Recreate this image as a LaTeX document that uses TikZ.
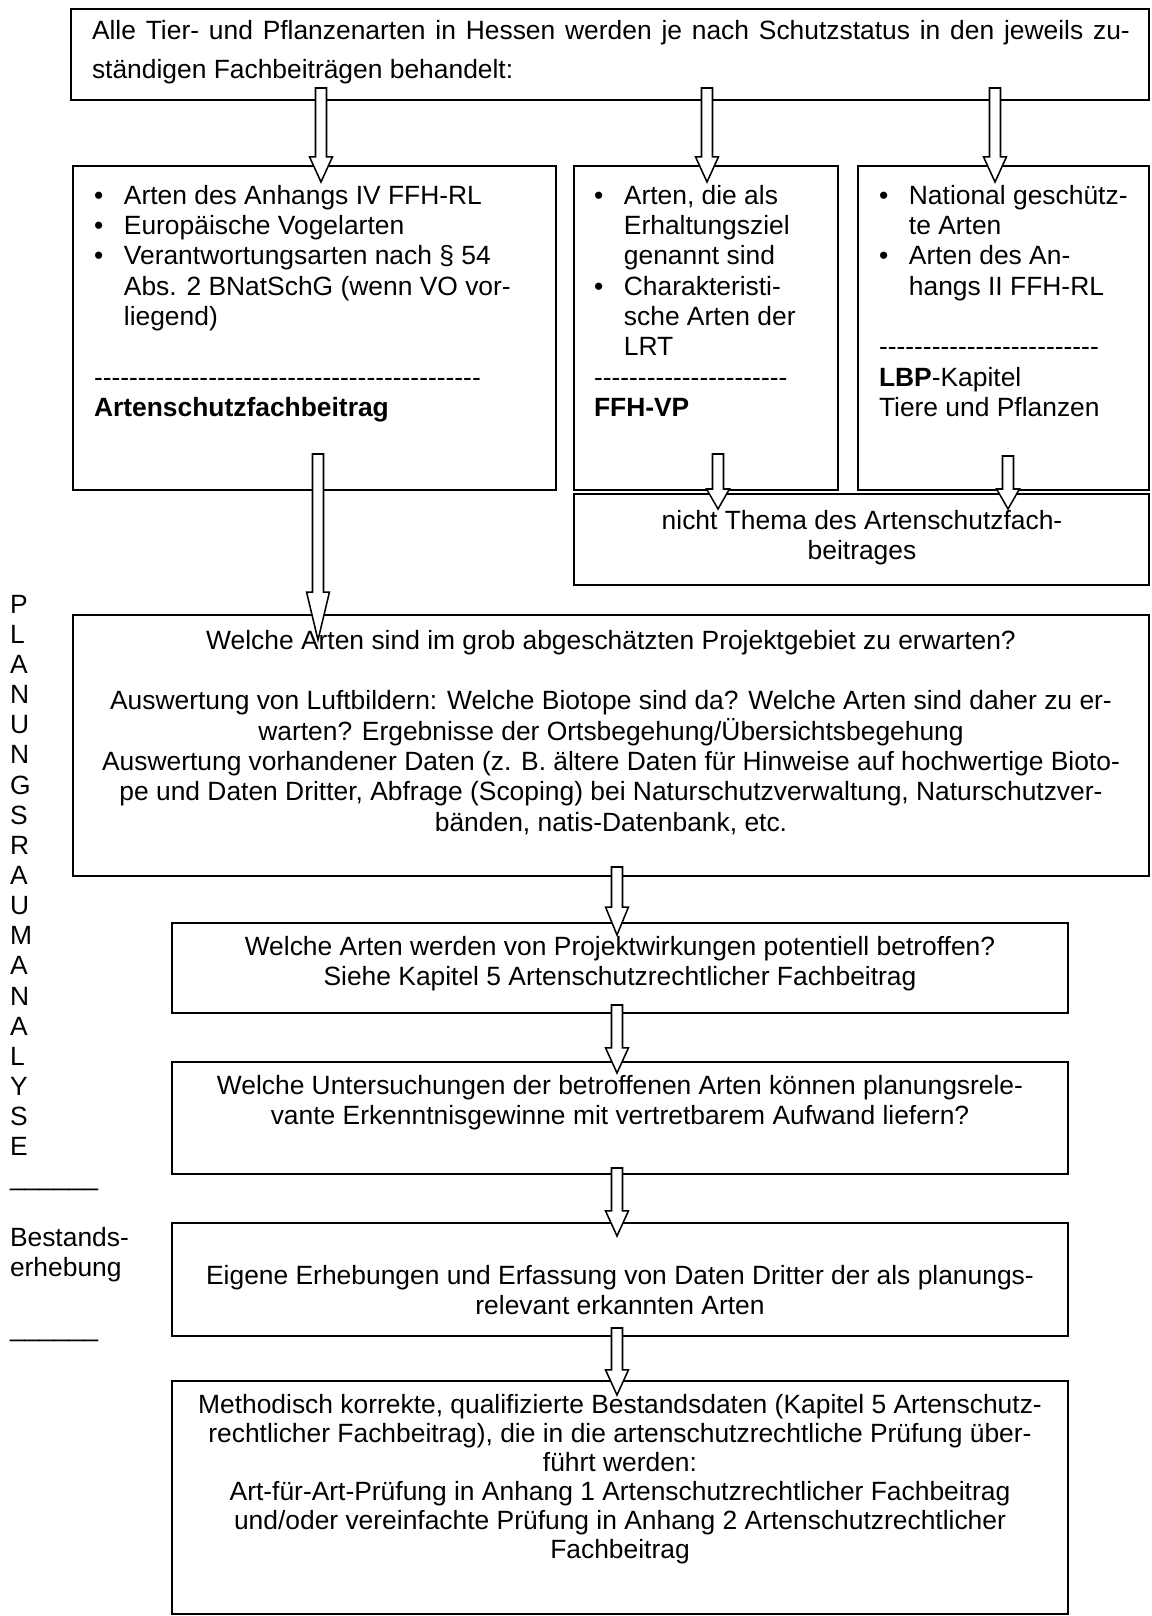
\documentclass[tikz,border=0pt]{standalone}
\usepackage{fontspec}
\newfontfamily\arial{Liberation Sans}
\usetikzlibrary{calc,fit}
\ExplSyntaxOn
\cs_new:Npn \mydashes #1 { \prg_replicate:nn {#1} {-{}} }
\ExplSyntaxOff
\newcommand\bul{\makebox[13.6pt][l]{•}}
\newcommand\ind{\hspace*{13.6pt}}
% block arrow: start coordinate, tip coordinate, head length
\newcommand\barrow[3]{\draw[arr] let \p1=(#1), \p2=(#2) in
  (\x2-2.5pt,\y1) -- (\x2+2.5pt,\y1) -- (\x2+2.5pt,\y2+#3) -- (\x2+5.2pt,\y2+#3)
  -- (\x2,\y2) -- (\x2-5.2pt,\y2+#3) -- (\x2-2.5pt,\y2+#3) -- cycle;}
\begin{document}
\begin{tikzpicture}[x=0.45454pt,y=-0.45454pt,
  box/.style={draw,line width=0.9pt,inner sep=0pt,outer sep=0pt},
  arr/.style={draw,fill=white,line width=0.7pt,line join=miter},
  txt/.style={font=\arial\fontsize{12}{13.8}\selectfont,inner sep=0pt,outer sep=0pt,
    anchor=north,align=center,execute at begin node=\strut}]
\useasboundingbox[fill=white] (0,0) rectangle (1151,1616);

% boxes
\node[box,fit={(71,9)(1149,100)}] (top) {};
\node[box,fit={(73,166)(556,490)}] (A) {};
\node[box,fit={(574,166)(838,490)}] (B) {};
\node[box,fit={(858,166)(1149,490)}] (C) {};
\node[box,fit={(574,494)(1149,585)}] (D) {};
\node[box,fit={(73,615)(1149,876)}] (big) {};
\node[box,fit={(172,923)(1068,1013)}] (b3) {};
\node[box,fit={(172,1062)(1068,1174)}] (b4) {};
\node[box,fit={(172,1223)(1068,1336)}] (b5) {};
\node[box,fit={(172,1381)(1068,1614)}] (b6) {};

% arrow end points
\path (top.south west) ++(250,-12) coordinate (s1);
\path (A.north west) ++(248,16) coordinate (e1);
\path (top.south west) ++(636,-12) coordinate (s2);
\path (B.north west) ++(133,16) coordinate (e2);
\path (top.south west) ++(924,-12) coordinate (s3);
\path (C.north west) ++(137,16) coordinate (e3);
\path (A.south west) ++(245,-36) coordinate (s4);
\path (big.north west) ++(245,25) coordinate (e4);
\path (B.south west) ++(144,-36) coordinate (s5);
\path (D.north west) ++(144,15) coordinate (e5);
\path (C.south west) ++(150,-34) coordinate (s6);
\path (D.north west) ++(434,15) coordinate (e6);
\path (big.south west) ++(544,-9) coordinate (s7);
\path (b3.north west) ++(445,12) coordinate (e7);
\path (b3.south west) ++(445,-8) coordinate (s8);
\path (b4.north west) ++(445,11) coordinate (e8);
\path (b4.south west) ++(445,-6) coordinate (s9);
\path (b5.north west) ++(445,13) coordinate (e9);
\path (b5.south west) ++(445,-8) coordinate (s10);
\path (b6.north west) ++(445,14) coordinate (e10);

\barrow{s1}{e1}{11.4pt}
\barrow{s2}{e2}{11.4pt}
\barrow{s3}{e3}{11.4pt}
\barrow{s4}{e4}{21.8pt}
\barrow{s5}{e5}{9.1pt}
\barrow{s6}{e6}{9.1pt}
\barrow{s7}{e7}{12.7pt}
\barrow{s8}{e8}{11.4pt}
\barrow{s9}{e9}{11.4pt}
\barrow{s10}{e10}{11.4pt}

% texts
\node[txt,anchor=north west,align=left,font=\arial\fontsize{12}{17.7}\selectfont] (ttop) at (92,20)
  {\makebox[471.8pt][s]{Alle Tier- und Pflanzenarten in Hessen werden je nach Schutzstatus in den jeweils zu-}\\
   ständigen Fachbeiträgen behandelt:};

\node[txt,anchor=north west,align=left] (tA) at (94,185)
  {\bul Arten des Anhangs IV FFH-RL\\
   \bul Europäische Vogelarten\\
   \bul Verantwortungsarten nach § 54\\
   \ind Abs. 2 BNatSchG (wenn VO vor-\\
   \ind liegend)\\
   \mbox{}\\
   \mydashes{44}\\
   \textbf{Artenschutzfachbeitrag}};

\node[txt,anchor=north west,align=left] (tB) at (594,185)
  {\bul Arten, die als\\
   \ind Erhaltungsziel\\
   \ind genannt sind\\
   \bul Charakteristi-\\
   \ind sche Arten der\\
   \ind LRT\\
   \mydashes{22}\\
   \textbf{FFH-VP}};

\node[txt,anchor=north west,align=left] (tC) at (879,185)
  {\bul National geschütz-\\
   \ind te Arten\\
   \bul Arten des An-\\
   \ind hangs II FFH-RL\\
   \mbox{}\\
   \mydashes{25}\\
   \textbf{LBP}-Kapitel\\
   Tiere und Pflanzen};

\node[txt] (tD) at (862,510)
  {nicht Thema des Artenschutzfach-\\beitrages};

\node[txt] (tbig) at (611,630)
  {Welche Arten sind im grob abgeschätzten Projektgebiet zu erwarten?\\
   \mbox{}\\
   Auswertung von Luftbildern: Welche Biotope sind da? Welche Arten sind daher zu er-\\
   warten? Ergebnisse der Ortsbegehung/Übersichtsbegehung\\
   Auswertung vorhandener Daten (z. B. ältere Daten für Hinweise auf hochwertige Bioto-\\
   pe und Daten Dritter, Abfrage (Scoping) bei Naturschutzverwaltung, Naturschutzver-\\
   bänden, natis-Datenbank, etc.};

\node[txt] (t3) at (620,936)
  {Welche Arten werden von Projektwirkungen potentiell betroffen?\\
   Siehe Kapitel 5 Artenschutzrechtlicher Fachbeitrag};

\node[txt] (t4) at (620,1075)
  {Welche Untersuchungen der betroffenen Arten können planungsrele-\\
   vante Erkenntnisgewinne mit vertretbarem Aufwand liefern?};

\node[txt] (t5) at (620,1265)
  {Eigene Erhebungen und Erfassung von Daten Dritter der als planungs-\\
   relevant erkannten Arten};

\node[txt,font=\arial\fontsize{12}{13.2}\selectfont] (t6) at (620,1394)
  {Methodisch korrekte, qualifizierte Bestandsdaten (Kapitel 5 Artenschutz-\\
   rechtlicher Fachbeitrag), die in die artenschutzrechtliche Prüfung über-\\
   führt werden:\\
   Art-für-Art-Prüfung in Anhang 1 Artenschutzrechtlicher Fachbeitrag\\
   und/oder vereinfachte Prüfung in Anhang 2 Artenschutzrechtlicher\\
   Fachbeitrag};

\node[txt,anchor=north west,align=left,font=\arial\fontsize{12}{13.7}\selectfont] (side) at (10,595)
  {P\\L\\A\\N\\U\\N\\G\\S\\R\\A\\U\\M\\A\\N\\A\\L\\Y\\S\\E\\
   \_\_\_\_\_\_\\
   \mbox{}\\
   Bestands-\\
   erhebung\\
   \mbox{}\\
   \_\_\_\_\_\_};
\end{tikzpicture}
\end{document}
